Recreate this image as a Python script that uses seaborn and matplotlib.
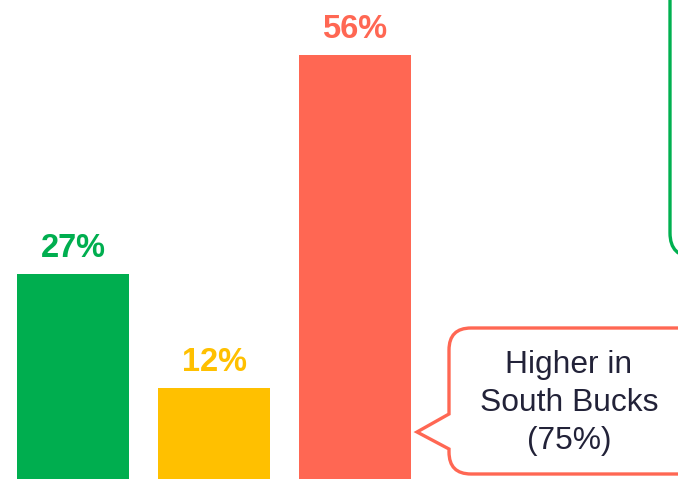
import matplotlib
matplotlib.use("Agg")
import matplotlib.pyplot as plt
import seaborn as sns
import pandas as pd
from matplotlib.path import Path
from matplotlib.patches import PathPatch

categories = ["Group 1", "Group 2", "Group 3"]
values = [27, 12, 56]
labels = ["27%", "12%", "56%"]
colors = ["#00AE4F", "#FFC000", "#FF6753"]
callout_text = "Higher in\nSouth Bucks\n(75%)"

W, H = 678, 479

sns.set_theme(style="white")
plt.rcParams["font.family"] = ["Liberation Sans", "DejaVu Sans"]

df = pd.DataFrame({"cat": categories, "val": values})

fig = plt.figure(figsize=(W / 100, H / 100), dpi=100)
ax = fig.add_axes([0, 0, 1, 1])
sns.barplot(
    data=df, x="cat", y="val", hue="cat", palette=colors,
    width=0.794, saturation=1, linewidth=0, legend=False, ax=ax,
)
ax.set_xlim(-0.518, 4.291)
ax.set_ylim(0, H / 7.58)
ax.axis("off")

for i, (v, lab, c) in enumerate(zip(values, labels, colors)):
    ax.annotate(lab, (i, v), xytext=(0, 12.2), textcoords="offset points",
                ha="center", va="baseline", fontsize=23.5,
                fontweight="bold", color=c)


# pixel coords (origin top-left) -> figure fraction
def px(x, y):
    return (x / W, 1 - y / H)


def make_path(pts_cmds):
    verts = [px(x, y) for (x, y), _ in pts_cmds]
    codes = [c for _, c in pts_cmds]
    return Path(verts, codes)


M, L, C3, CL = Path.MOVETO, Path.LINETO, Path.CURVE3, Path.CLOSEPOLY

# red speech-bubble callout
x0, x1, y0, y1, r = 449, 720, 328, 474, 22
bubble = [
    ((x0 + r, y0), M), ((x1 - r, y0), L),
    ((x1, y0), C3), ((x1, y0 + r), C3),
    ((x1, y1 - r), L),
    ((x1, y1), C3), ((x1 - r, y1), C3),
    ((x0 + r, y1), L),
    ((x0, y1), C3), ((x0, y1 - r), C3),
    ((x0, 449), L), ((417, 432), L), ((x0, 414), L),
    ((x0, y0 + r), L),
    ((x0, y0), C3), ((x0 + r, y0), C3),
    ((x0 + r, y0), CL),
]
fig.patches.append(PathPatch(make_path(bubble), transform=fig.transFigure,
                             facecolor="white", edgecolor="#FF6753",
                             linewidth=2.4, joinstyle="miter"))
fig.text(*px(569, 403), callout_text, ha="center", va="center",
         fontsize=22.9, color="#222238", linespacing=1.34)

# green box partly off the right edge
gx0, gx1, gy0, gy1, gr = 670, 740, -40, 257, 24
gbox = [
    ((gx0, gy0), M), ((gx0, gy1 - gr), L),
    ((gx0, gy1), C3), ((gx0 + gr, gy1), C3),
    ((gx1, gy1), L),
]
fig.patches.append(PathPatch(make_path(gbox), transform=fig.transFigure,
                             facecolor="none", edgecolor="#00B050",
                             linewidth=2.4))

fig.savefig("out.png", dpi=100)
